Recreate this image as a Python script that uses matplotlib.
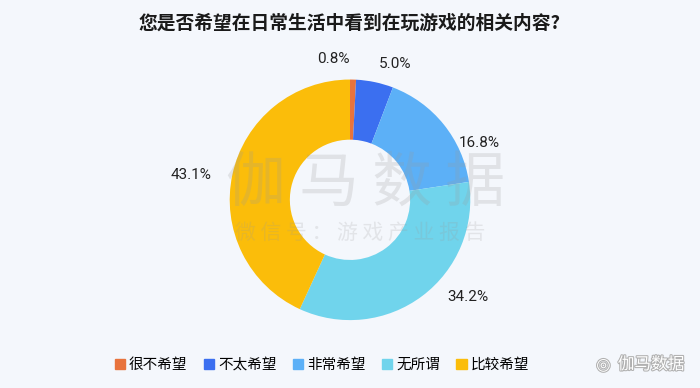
import numpy as np
import matplotlib
matplotlib.use("Agg")
import matplotlib.pyplot as plt
import matplotlib.patheffects as pe

plt.rcParams["font.family"] = ["Noto Sans CJK SC", "DejaVu Sans"]

TITLE = "您是否希望在日常生活中看到在玩游戏的相关内容?"
CATS = ["很不希望", "不太希望", "非常希望", "无所谓", "比较希望"]
VALS = [0.8, 5.0, 16.8, 34.2, 43.1]
COLORS = ["#e8733d", "#3b6ff0", "#5cb0f7", "#70d4ec", "#fbbd0a"]
BG = "#f4f7fc"

# label placement tweaks (angle shift in degrees, radial distance)
LBL_SHIFT = [0, 0, -11, 8, 2]
LBL_DIST = [1.17, 1.15, 1.02, 1.14, 1.17]

fig = plt.figure(figsize=(7, 3.88), dpi=100, facecolor=BG)
ax = fig.add_axes([0.5 - 0.172, 0.175, 0.344, 0.62])
ax.set_facecolor(BG)

wedges, _ = ax.pie(VALS, colors=COLORS, startangle=90, counterclock=False,
                   radius=1.0, wedgeprops=dict(width=0.5, edgecolor="none"))
ax.set_aspect("equal")
ax.set_xlim(-1.0, 1.0)
ax.set_ylim(-1.0, 1.0)

# labels outside each slice
for w, v, sh, r in zip(wedges, VALS, LBL_SHIFT, LBL_DIST):
    ang = np.deg2rad((w.theta1 + w.theta2) / 2 + sh)
    x, y = r * np.cos(ang), r * np.sin(ang)
    ha = "left" if x > 0.05 else "right"
    if v < 2:
        x, ha = 0.0, "right"
    ax.text(x, y, f"{v:.1f}%", ha=ha, va="center", fontsize=11,
            family=["Roboto", "DejaVu Sans"], color="#222222")

# watermark
fig.text(0.522, 0.525, "伽 马 数 据", ha="center", va="center", fontsize=43,
         color="#9a9a9a", alpha=0.22)
fig.text(0.515, 0.40, "微 信 号 ： 游 戏 产 业 报 告", ha="center",
         va="center", fontsize=15, color="#9a9a9a", alpha=0.2)

fig.text(0.5, 0.94, TITLE, ha="center", va="center", fontsize=13.5,
         fontweight="bold", color="#1a1a1a")

handles = [plt.Rectangle((0, 0), 1, 1, color=c) for c in COLORS]
fig.legend(handles, CATS, loc="center", bbox_to_anchor=(0.46, 0.06),
           ncol=5, frameon=False, fontsize=10.5, handlelength=0.7,
           handleheight=0.7, handletextpad=0.3, columnspacing=1.1)

fig.text(0.93, 0.06, "伽马数据", ha="center", va="center", fontsize=12,
         color="white", path_effects=[pe.withStroke(linewidth=1.5,
                                                    foreground="#b0b0b0")])
fig.text(0.862, 0.06, "◎", ha="center", va="center", fontsize=12,
         family=["DejaVu Sans"], color="white",
         path_effects=[pe.withStroke(linewidth=1.5, foreground="#b0b0b0")])

fig.savefig("out.png", dpi=100, facecolor=BG)
